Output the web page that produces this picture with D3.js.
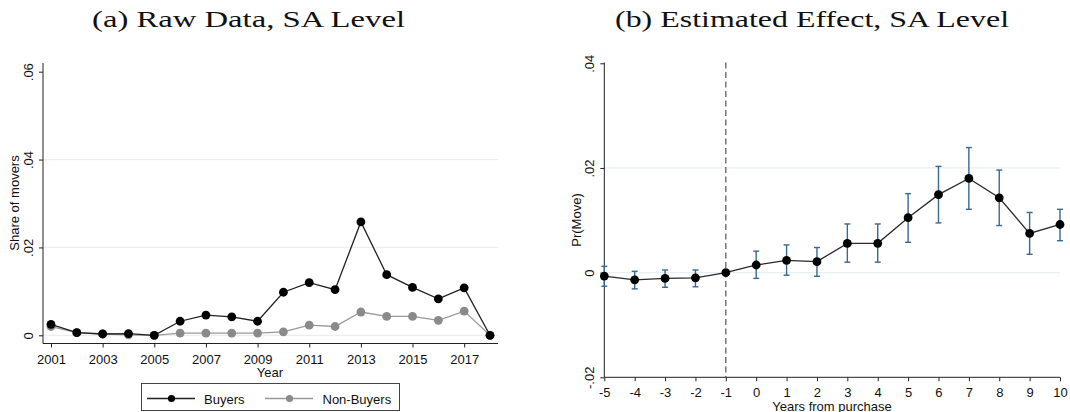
<!DOCTYPE html>
<html>
<head>
<meta charset="utf-8">
<script src="https://cdn.jsdelivr.net/npm/d3@7"></script>
<style>
  html, body { margin: 0; padding: 0; background: #fff; }
  svg { display: block; }
  .tick text { font-family: "Liberation Sans", Arial, sans-serif; font-size: 13px; fill: #111; }
  .lab { font-family: "Liberation Sans", Arial, sans-serif; font-size: 13px; fill: #111; }
  .ttl { font-family: "Liberation Serif", "DejaVu Serif", serif; font-size: 22.5px; fill: #111; }
</style>
</head>
<body>
<svg id="fig" width="1070" height="412"></svg>
<script>
// Panel (a): share of movers by year
const years = [2001,2002,2003,2004,2005,2006,2007,2008,2009,2010,2011,2012,2013,2014,2015,2016,2017,2018];
const buyers = [0.0025,0.0006,0.0003,0.0004,0.0000,0.0032,0.0046,0.0042,0.0032,0.0098,0.0120,0.0104,0.0258,0.0138,0.0109,0.0083,0.0108,0.0000];
const nonBuyers = [0.0020,0.0006,0.0003,0.0001,0.0000,0.0005,0.0005,0.0005,0.0005,0.0008,0.0023,0.0020,0.0053,0.0043,0.0043,0.0034,0.0055,0.0000];
const yearTicks = [2001,2003,2005,2007,2009,2011,2013,2015,2017];
const shareTicks = [0, 0.02, 0.04, 0.06];
const shareTickLabels = ["0", ".02", ".04", ".06"];

// Panel (b): event-study estimates with 95% intervals
const relYears = [-5,-4,-3,-2,-1,0,1,2,3,4,5,6,7,8,9,10];
const estimates = [-0.00065,-0.0014,-0.0011,-0.0010,0.0000,0.00146,0.00235,0.0021,0.0056,0.0056,0.0105,0.0149,0.0180,0.0143,0.0075,0.0092];
const ciLow  = [-0.0026,-0.0031,-0.0028,-0.0027,null,-0.0011,-0.0005,-0.0007,0.0020,0.0020,0.0058,0.0095,0.0121,0.0090,0.0035,0.0061];
const ciHigh = [0.0012,0.00025,0.0005,0.0005,null,0.0041,0.0053,0.0048,0.0093,0.0093,0.0151,0.0203,0.0239,0.0196,0.0115,0.0121];
const probTicks = [-0.02, 0, 0.02, 0.04];
const probTickLabels = ["-.02", "0", ".02", ".04"];

const svg = d3.select("#fig");
const gridColor = "#e6eff1";
const axisColor = "#222";

function rotatedYTicks(g, labels) {
  g.select(".domain").remove();
  g.selectAll(".tick line").attr("stroke", axisColor);
  g.selectAll(".tick text")
    .text((d, i) => labels[i])
    .attr("transform", "rotate(-90)")
    .attr("x", 0).attr("y", -10.5).attr("dy", null)
    .attr("text-anchor", "middle");
}

// ---------- Panel (a) ----------
{
  const x = d3.scaleLinear().domain([2001, 2018]).range([51, 490]);
  const y = d3.scaleLinear().domain([0, 0.06]).range([335.3, 71.7]);
  const left = 43, right = 498, bottom = 343.5, top = 63;
  const g = svg.append("g");

  g.selectAll(".grid").data([0, 0.02, 0.04]).join("line")
    .attr("x1", left).attr("x2", right)
    .attr("y1", d => y(d)).attr("y2", d => y(d))
    .attr("stroke", gridColor).attr("stroke-width", 1.2);

  g.append("line").attr("x1", left).attr("x2", left).attr("y1", top).attr("y2", bottom)
    .attr("stroke", axisColor).attr("stroke-width", 1);
  g.append("line").attr("x1", left).attr("x2", right).attr("y1", bottom).attr("y2", bottom)
    .attr("stroke", axisColor).attr("stroke-width", 1);

  g.append("g").attr("transform", `translate(${left},0)`)
    .call(d3.axisLeft(y).tickValues(shareTicks).tickSize(4).tickSizeOuter(0))
    .call(a => rotatedYTicks(a, shareTickLabels));

  g.append("g").attr("transform", `translate(0,${bottom})`)
    .call(d3.axisBottom(x).tickValues(yearTicks).tickFormat(d3.format("d")).tickSize(4).tickSizeOuter(0))
    .call(a => {
      a.select(".domain").remove();
      a.selectAll(".tick line").attr("stroke", axisColor);
      a.selectAll(".tick text").attr("y", 20).attr("dy", null);
    });

  const line = d3.line().x((d, i) => x(years[i])).y(d => y(d));
  g.append("path").datum(nonBuyers).attr("d", line)
    .attr("fill", "none").attr("stroke", "#999").attr("stroke-width", 1.3);
  g.selectAll(".nb").data(nonBuyers).join("circle")
    .attr("cx", (d, i) => x(years[i])).attr("cy", d => y(d)).attr("r", 4.4).attr("fill", "#8a8a8a");
  g.append("path").datum(buyers).attr("d", line)
    .attr("fill", "none").attr("stroke", "#222").attr("stroke-width", 1.3);
  g.selectAll(".b").data(buyers).join("circle")
    .attr("cx", (d, i) => x(years[i])).attr("cy", d => y(d)).attr("r", 4.4).attr("fill", "#000");

  g.append("text").attr("class", "lab").attr("x", 270).attr("y", 377)
    .attr("text-anchor", "middle").text("Year");
  g.append("text").attr("class", "lab")
    .attr("transform", `translate(18.5,203) rotate(-90)`)
    .attr("text-anchor", "middle").text("Share of movers");

  // legend
  const lg = g.append("g");
  lg.append("rect").attr("x", 141.5).attr("y", 383.5).attr("width", 258).attr("height", 27)
    .attr("fill", "#fff").attr("stroke", "#444").attr("stroke-width", 1);
  const items = [
    { name: "Buyers", line: "#222", dot: "#000", x0: 147, tx: 204 },
    { name: "Non-Buyers", line: "#999", dot: "#8a8a8a", x0: 265, tx: 322.5 }
  ];
  items.forEach(it => {
    lg.append("line").attr("x1", it.x0).attr("x2", it.x0 + 48).attr("y1", 398.5).attr("y2", 398.5)
      .attr("stroke", it.line).attr("stroke-width", 1.3);
    lg.append("circle").attr("cx", it.x0 + 24.5).attr("cy", 398.5).attr("r", 3.6).attr("fill", it.dot);
    lg.append("text").attr("class", "lab").attr("x", it.tx).attr("y", 403.5).text(it.name);
  });

  svg.append("text").attr("class", "ttl").attr("x", 92).attr("y", 27)
    .attr("textLength", 313).attr("lengthAdjust", "spacingAndGlyphs")
    .text("(a) Raw Data, SA Level");
}

// ---------- Panel (b) ----------
{
  const x = d3.scaleLinear().domain([-5, 10]).range([604.3, 1060]);
  const y = d3.scaleLinear().domain([-0.02, 0.04]).range([377.3, 63.3]);
  const left = 604.3, right = 1060, bottom = 377.3, top = 62.5;
  const g = svg.append("g");

  g.selectAll(".grid").data([0, 0.02]).join("line")
    .attr("x1", left).attr("x2", right)
    .attr("y1", d => y(d)).attr("y2", d => y(d))
    .attr("stroke", gridColor).attr("stroke-width", 1.2);

  g.append("line").attr("x1", left).attr("x2", left).attr("y1", top).attr("y2", bottom)
    .attr("stroke", axisColor).attr("stroke-width", 1);
  g.append("line").attr("x1", left).attr("x2", right).attr("y1", bottom).attr("y2", bottom)
    .attr("stroke", axisColor).attr("stroke-width", 1);

  g.append("g").attr("transform", `translate(${left},0)`)
    .call(d3.axisLeft(y).tickValues(probTicks).tickSize(4).tickSizeOuter(0))
    .call(a => rotatedYTicks(a, probTickLabels));

  g.append("g").attr("transform", `translate(0,${bottom})`)
    .call(d3.axisBottom(x).tickValues(relYears).tickFormat(d3.format("d")).tickSize(4).tickSizeOuter(0))
    .call(a => {
      a.select(".domain").remove();
      a.selectAll(".tick line").attr("stroke", axisColor);
      a.selectAll(".tick text").attr("y", 19.5).attr("dy", null)
        .text(d => d < 0 ? "-" + Math.abs(d) : d);
    });

  // reference year marker
  g.append("line").attr("x1", x(-1)).attr("x2", x(-1)).attr("y1", top).attr("y2", bottom)
    .attr("stroke", "#555").attr("stroke-width", 1.2).attr("stroke-dasharray", "6,3.5");

  // confidence intervals
  const ci = relYears.map((r, i) => ({ r, lo: ciLow[i], hi: ciHigh[i] })).filter(d => d.lo !== null);
  const eb = g.append("g").attr("stroke", "#3b6790").attr("stroke-width", 1.4);
  eb.selectAll(".v").data(ci).join("line")
    .attr("x1", d => x(d.r)).attr("x2", d => x(d.r)).attr("y1", d => y(d.lo)).attr("y2", d => y(d.hi));
  eb.selectAll(".cl").data(ci).join("line")
    .attr("x1", d => x(d.r) - 3).attr("x2", d => x(d.r) + 3).attr("y1", d => y(d.lo)).attr("y2", d => y(d.lo));
  eb.selectAll(".ch").data(ci).join("line")
    .attr("x1", d => x(d.r) - 3).attr("x2", d => x(d.r) + 3).attr("y1", d => y(d.hi)).attr("y2", d => y(d.hi));

  const line = d3.line().x((d, i) => x(relYears[i])).y(d => y(d));
  g.append("path").datum(estimates).attr("d", line)
    .attr("fill", "none").attr("stroke", "#2a2a2a").attr("stroke-width", 1.3);
  g.selectAll(".pt").data(estimates).join("circle")
    .attr("cx", (d, i) => x(relYears[i])).attr("cy", d => y(d)).attr("r", 4.4).attr("fill", "#000");

  g.append("text").attr("class", "lab").attr("x", 832).attr("y", 410.5)
    .attr("text-anchor", "middle").attr("font-size", "12.5px").text("Years from purchase");
  g.append("text").attr("class", "lab")
    .attr("transform", `translate(581,220) rotate(-90)`)
    .attr("text-anchor", "middle").text("Pr(Move)");

  svg.append("text").attr("class", "ttl").attr("x", 615).attr("y", 27)
    .attr("textLength", 394).attr("lengthAdjust", "spacingAndGlyphs")
    .text("(b) Estimated Effect, SA Level");
}
</script>
</body>
</html>
